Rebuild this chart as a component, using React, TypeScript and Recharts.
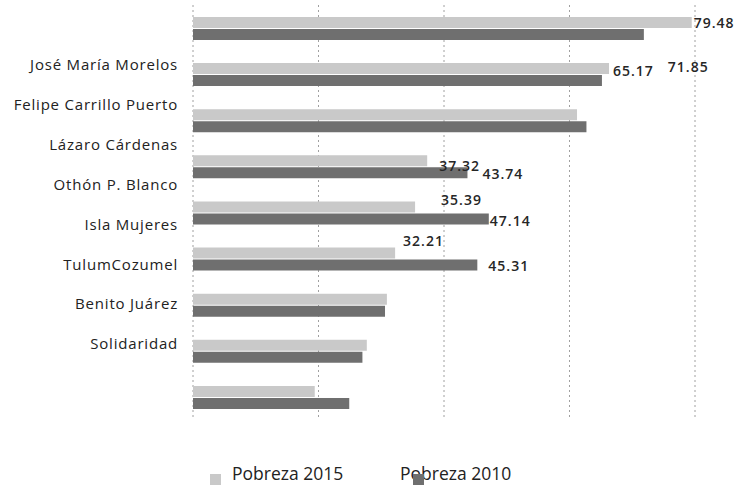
import { BarChart, Bar, XAxis, YAxis, CartesianGrid, LabelList } from "recharts";

// municipios de arriba hacia abajo (la primera fila no trae nombre en el original)
const municipios = [
  "",
  "José María Morelos",
  "Felipe Carrillo Puerto",
  "Lázaro Cárdenas",
  "Othón P. Blanco",
  "Isla Mujeres",
  "TulumCozumel",
  "Benito Juárez",
  "Solidaridad",
];
const pobreza2015 = [79.48, 66.3, 61.2, 37.32, 35.39, 32.21, 30.9, 27.7, 19.4];
const pobreza2010 = [71.85, 65.17, 62.7, 43.74, 47.14, 45.31, 30.6, 27.0, 24.9];
const etiquetas2015 = ["79.48", null, null, "37.32", "35.39", "32.21", null, null, null];
const etiquetas2010 = ["71.85", "65.17", null, "43.74", "47.14", "45.31", null, null, null];
const xTicks = [20, 40, 60, 80];

const data = municipios.map((m, i) => ({
  label: m,
  p2015: pobreza2015[i],
  p2010: pobreza2010[i],
  l2015: etiquetas2015[i],
  l2010: etiquetas2010[i],
}));

const LIGHT = "#c9c9c9";
const DARK = "#6f6f6f";
const FONT = "'Open Sans', sans-serif";

// the scanned original scatters its value labels, nudge them to match
const nudge2015: Record<number, [number, number]> = { 0: [2, 0], 3: [12, 5], 4: [26, -7], 5: [8, -13] };
const nudge2010: Record<number, [number, number]> = { 0: [24, 32], 1: [11, -10], 3: [15, 1], 4: [1, 2], 5: [11, 0] };

function valueLabel(nudge: Record<number, [number, number]>) {
  return (props: any) => {
    const { x, y, width, height, value, index } = props;
    if (value == null) return null;
    const [dx, dy] = nudge[index] ?? [4, 0];
    return (
      <text
        x={Number(x) + Number(width) + dx}
        y={Number(y) + Number(height) / 2 + dy}
        dominantBaseline="central"
        fontFamily={FONT}
        fontSize={14}
        fontWeight={600}
        letterSpacing={1}
        fill="#262626"
      >
        {value}
      </text>
    );
  };
}

export default function App() {
  return (
    <div style={{ position: "absolute", left: 0, top: 0, width: 735, height: 485, background: "#fff" }}>
      <BarChart
        width={735}
        height={485}
        data={data}
        layout="vertical"
        margin={{ top: 5, right: 40, bottom: 65, left: 0 }}
        barSize={11}
        barGap={1}
      >
        <CartesianGrid horizontal={false} yAxisId="bars" stroke="#a0a0a0" strokeDasharray="2 3" />
        <XAxis type="number" domain={[0, 80]} ticks={xTicks} hide />
        <YAxis yAxisId="bars" type="category" dataKey="label" width={0} hide />
        <YAxis
          yAxisId="labels"
          type="category"
          dataKey="label"
          width={193}
          padding={{ top: 0, bottom: 56 }}
          axisLine={false}
          tickLine={false}
          tickSize={0}
          tickMargin={15}
          interval={0}
          tick={{ fontSize: 15, fill: "#222", fontFamily: FONT, letterSpacing: 0.8 }}
        />
        <Bar yAxisId="bars" dataKey="p2015" name="Pobreza 2015" fill={LIGHT} isAnimationActive={false}>
          <LabelList dataKey="l2015" content={valueLabel(nudge2015)} />
        </Bar>
        <Bar yAxisId="bars" dataKey="p2010" name="Pobreza 2010" fill={DARK} isAnimationActive={false}>
          <LabelList dataKey="l2010" content={valueLabel(nudge2010)} />
        </Bar>
      </BarChart>
      <svg width={735} height={485} style={{ position: "absolute", left: 0, top: 0, pointerEvents: "none" }}>
        <rect x={210} y={474} width={11} height={11} fill={LIGHT} />
        <text x={232} y={480} fontFamily={FONT} fontSize={17.5} fill="#222">Pobreza 2015</text>
        <text x={400} y={480} fontFamily={FONT} fontSize={17.5} fill="#222">Pobreza 2010</text>
        <rect x={413} y={474} width={11} height={11} fill={DARK} />
      </svg>
    </div>
  );
}
